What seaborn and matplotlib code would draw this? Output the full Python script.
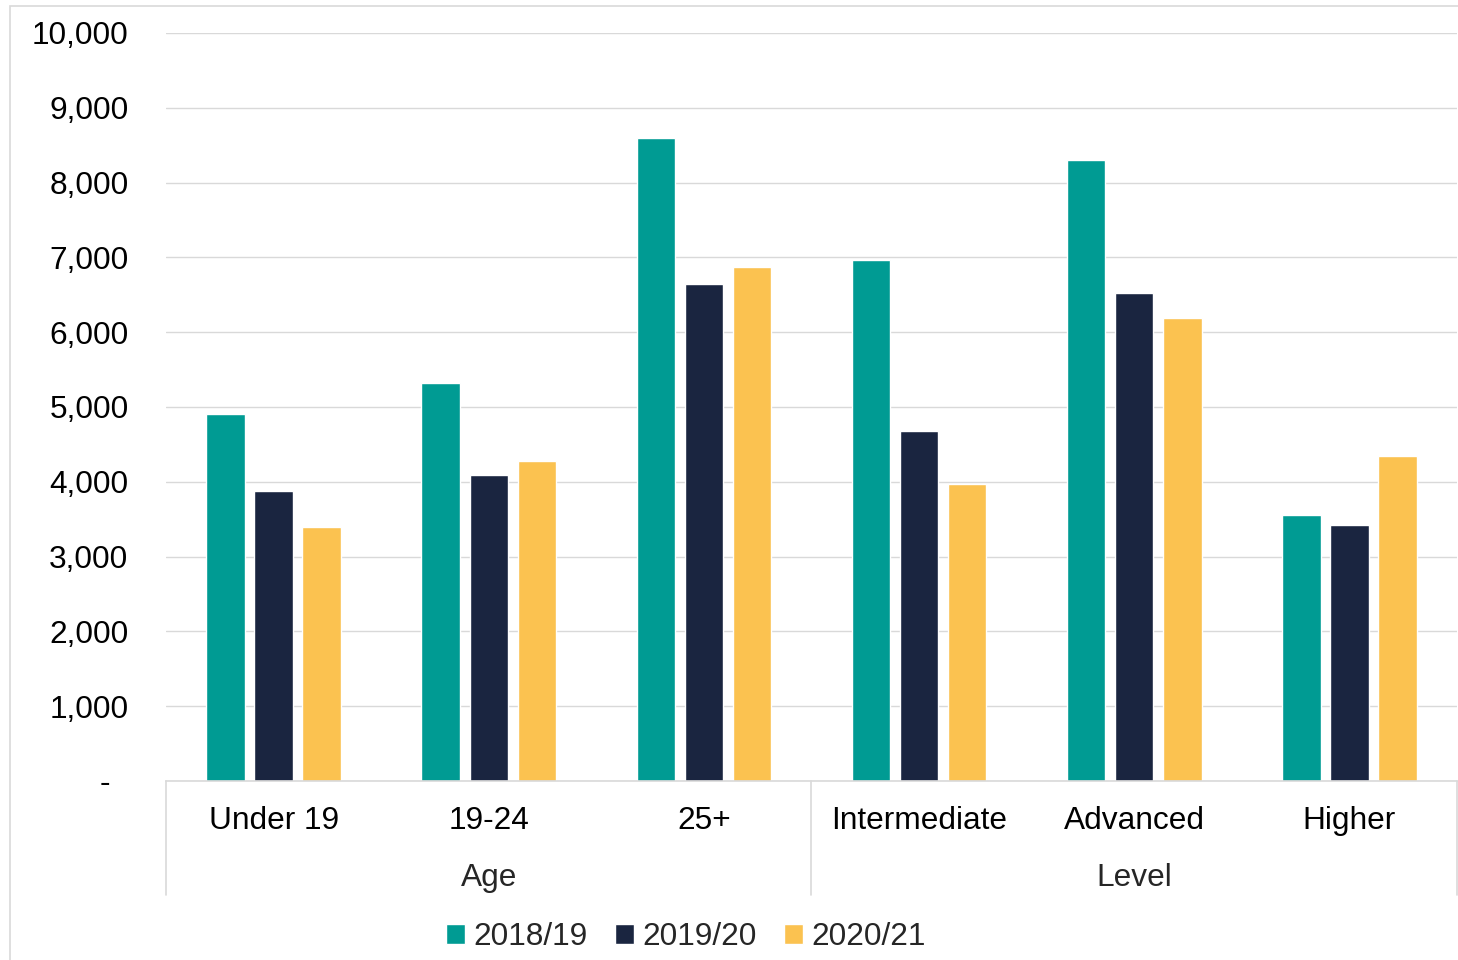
import numpy as np
import pandas as pd
import matplotlib
matplotlib.use('Agg')
from matplotlib import pyplot as plt
from matplotlib.ticker import FuncFormatter
from matplotlib.patches import Rectangle
import matplotlib.transforms as mtrans
import seaborn as sns

# data
categories = ['Under 19', '19-24', '25+', 'Intermediate', 'Advanced', 'Higher']
groups = ['Age', 'Level']
years = ['2018/19', '2019/20', '2020/21']
v2018 = [4900, 5320, 8590, 6965, 8305, 3555]
v2019 = [3880, 4095, 6640, 4675, 6520, 3420]
v2020 = [3390, 4275, 6875, 3965, 6195, 4340]
colours = ['#009B93', '#1A2540', '#FBC250']

df = pd.DataFrame({
    'category': categories * 3,
    'year': [y for y in years for _ in categories],
    'value': v2018 + v2019 + v2020,
})

sns.set_theme(style='white')
plt.rcParams['font.family'] = ['Liberation Sans', 'DejaVu Sans']
fs = 22.8

fig = plt.figure(figsize=(14.58, 9.6), dpi=100)
ax = fig.add_axes([166/1458, 1-781/960, (1457-166)/1458, (781-33)/960])

sns.barplot(data=df, x='category', y='value', hue='year', order=categories,
            hue_order=years, palette=colours, width=0.67, gap=0.2,
            saturation=1, ax=ax, legend=True)

ax.set_ylim(0, 10000)
ax.set_xlim(-0.5, 5.5)
ax.set_yticks(np.arange(0, 10001, 1000))
ax.yaxis.set_major_formatter(FuncFormatter(lambda v, p: '-  ' if v == 0 else '{:,.0f}'.format(v)))
ax.grid(axis='y', color='#D9D9D9', linewidth=1)
ax.set_axisbelow(True)
for s in ['top', 'right', 'left']:
    ax.spines[s].set_visible(False)
ax.spines['bottom'].set_color('#D9D9D9')
ax.spines['bottom'].set_linewidth(1.2)
ax.set_xlabel('')
ax.set_ylabel('')
ax.tick_params(axis='y', length=0, pad=27, labelsize=fs, labelcolor='black')
ax.tick_params(axis='x', length=0, pad=18, labelsize=fs, labelcolor='black')

# group labels and separators under the axis
trans = mtrans.blended_transform_factory(ax.transData, fig.transFigure)
for gx in [-0.5, 2.5, 5.5]:
    ax.plot([gx, gx], [1-781/960, 1-895/960], transform=trans, color='#D9D9D9',
            linewidth=1.2, clip_on=False)
ax.text(1, 1-878/960, groups[0], transform=trans, ha='center', va='center', fontsize=fs)
ax.text(4, 1-878/960, groups[1], transform=trans, ha='center', va='center', fontsize=fs)

handles, labels = ax.get_legend_handles_labels()
ax.legend_.remove()
fig.legend(handles, labels, loc='center', bbox_to_anchor=(686/1458, 1-937/960), ncol=3,
           frameon=False, fontsize=fs, handlelength=0.6, handleheight=0.6,
           handletextpad=0.25, columnspacing=0.88, borderpad=0)

# outer chart frame
fig.add_artist(Rectangle((10/1458, -0.05), 1.2, 1.05-6/960, transform=fig.transFigure,
                         fill=False, edgecolor='#D9D9D9', linewidth=1.2))

fig.savefig('out.png', dpi=100)
